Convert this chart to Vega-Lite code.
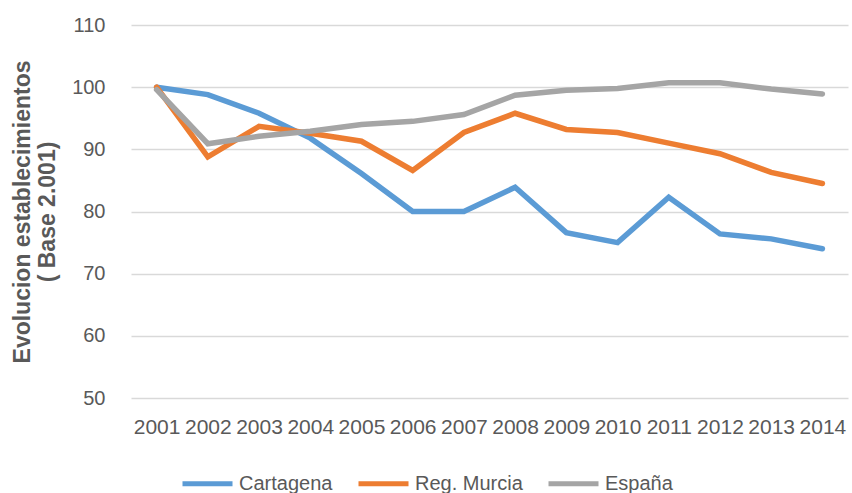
{
  "$schema": "https://vega.github.io/schema/vega-lite/v6.json",
  "width": 717,
  "height": 373,
  "autosize": "none",
  "padding": {"left": 131, "top": 25, "right": 4, "bottom": 95},
  "background": "white",
  "config": {
    "view": {"stroke": null},
    "font": "Liberation Sans"
  },
  "data": {
    "values": [
      {"year": "2001", "serie": "Cartagena", "value": 100},
      {"year": "2002", "serie": "Cartagena", "value": 98.8},
      {"year": "2003", "serie": "Cartagena", "value": 95.8},
      {"year": "2004", "serie": "Cartagena", "value": 91.8},
      {"year": "2005", "serie": "Cartagena", "value": 86.1},
      {"year": "2006", "serie": "Cartagena", "value": 80},
      {"year": "2007", "serie": "Cartagena", "value": 80},
      {"year": "2008", "serie": "Cartagena", "value": 83.9},
      {"year": "2009", "serie": "Cartagena", "value": 76.6},
      {"year": "2010", "serie": "Cartagena", "value": 75},
      {"year": "2011", "serie": "Cartagena", "value": 82.3},
      {"year": "2012", "serie": "Cartagena", "value": 76.4},
      {"year": "2013", "serie": "Cartagena", "value": 75.6},
      {"year": "2014", "serie": "Cartagena", "value": 74},
      {"year": "2001", "serie": "Reg. Murcia", "value": 100},
      {"year": "2002", "serie": "Reg. Murcia", "value": 88.8},
      {"year": "2003", "serie": "Reg. Murcia", "value": 93.7},
      {"year": "2004", "serie": "Reg. Murcia", "value": 92.6},
      {"year": "2005", "serie": "Reg. Murcia", "value": 91.3},
      {"year": "2006", "serie": "Reg. Murcia", "value": 86.6},
      {"year": "2007", "serie": "Reg. Murcia", "value": 92.7},
      {"year": "2008", "serie": "Reg. Murcia", "value": 95.8},
      {"year": "2009", "serie": "Reg. Murcia", "value": 93.2},
      {"year": "2010", "serie": "Reg. Murcia", "value": 92.7},
      {"year": "2011", "serie": "Reg. Murcia", "value": 91},
      {"year": "2012", "serie": "Reg. Murcia", "value": 89.3},
      {"year": "2013", "serie": "Reg. Murcia", "value": 86.3},
      {"year": "2014", "serie": "Reg. Murcia", "value": 84.5},
      {"year": "2001", "serie": "España", "value": 99.6},
      {"year": "2002", "serie": "España", "value": 90.9},
      {"year": "2003", "serie": "España", "value": 92.1},
      {"year": "2004", "serie": "España", "value": 92.9},
      {"year": "2005", "serie": "España", "value": 94},
      {"year": "2006", "serie": "España", "value": 94.5},
      {"year": "2007", "serie": "España", "value": 95.6},
      {"year": "2008", "serie": "España", "value": 98.7},
      {"year": "2009", "serie": "España", "value": 99.5},
      {"year": "2010", "serie": "España", "value": 99.8},
      {"year": "2011", "serie": "España", "value": 100.7},
      {"year": "2012", "serie": "España", "value": 100.7},
      {"year": "2013", "serie": "España", "value": 99.7},
      {"year": "2014", "serie": "España", "value": 98.9}
    ]
  },
  "mark": {"type": "line", "strokeWidth": 5.5, "strokeCap": "round", "strokeJoin": "miter"},
  "encoding": {
    "x": {
      "field": "year",
      "type": "ordinal",
      "scale": {"type": "point", "padding": 0.5},
      "axis": {
        "title": null,
        "labelAngle": 0,
        "domain": false,
        "ticks": false,
        "grid": false,
        "labelPadding": 18,
        "labelFontSize": 21,
        "labelColor": "#595959"
      }
    },
    "y": {
      "field": "value",
      "type": "quantitative",
      "scale": {"domain": [50, 110], "nice": false, "zero": false},
      "axis": {
        "values": [50, 60, 70, 80, 90, 100, 110],
        "domain": false,
        "ticks": false,
        "grid": true,
        "gridColor": "#D9D9D9",
        "gridWidth": 1.5,
        "labelPadding": 26,
        "labelFontSize": 20,
        "labelColor": "#595959",
        "title": ["Evolucion establecimientos", "( Base 2.001)"],
        "titleFontSize": 23,
        "titleFontWeight": "bold",
        "titleColor": "#595959",
        "titlePadding": 12,
        "titleLineHeight": 25
      }
    },
    "color": {
      "field": "serie",
      "type": "nominal",
      "sort": ["Cartagena", "Reg. Murcia", "España"],
      "scale": {"domain": ["Cartagena", "Reg. Murcia", "España"], "range": ["#5B9BD5", "#ED7D31", "#A5A5A5"]},
      "legend": {
        "title": null,
        "orient": "none",
        "direction": "horizontal",
        "legendX": 49,
        "legendY": 431,
        "symbolType": "stroke",
        "symbolStrokeWidth": 5,
        "symbolSize": 2500,
        "labelFontSize": 20,
        "labelColor": "#595959",
        "labelOffset": 4,
        "columnPadding": 15
      }
    }
  }
}
